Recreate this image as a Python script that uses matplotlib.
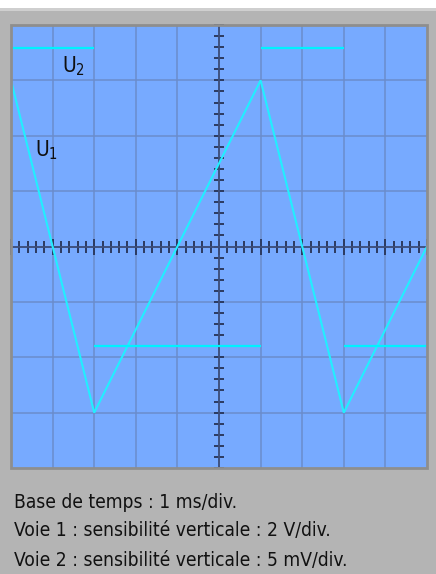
import matplotlib
matplotlib.use("Agg")
import matplotlib.pyplot as plt
from matplotlib.patches import Rectangle
from matplotlib.ticker import MultipleLocator
from matplotlib import font_manager
from matplotlib.font_manager import FontProperties

# ---- data (divisions) ----
u1_x = [0, 2, 6, 8, 10]
u1_y = [3, -3, 3, -3, 0]

u2_segments_x = [[0, 2], [2, 6], [6, 8], [8, 10]]
u2_segments_y = [[3.58, 3.58], [-1.8, -1.8], [3.58, 3.58], [-1.8, -1.8]]

trace_labels = [r"$\mathregular{U_2}$", r"$\mathregular{U_1}$"]

info_lines = [
    "Base de temps : 1 ms/div.",
    "Voie 1 : sensibilité verticale : 2 V/div.",
    "Voie 2 : sensibilité verticale : 5 mV/div.",
]


def pick_font():
    files = [f.fname for f in font_manager.fontManager.ttflist]
    prefs = ["LiberationSansNarrow-Regular", "DejaVuSansCondensed.ttf",
             "LiberationSans-Regular"]
    for p in prefs:
        for fn in files:
            if p in fn:
                return fn, p
    return None, None


fname, which = pick_font()


def fp(size):
    if fname:
        return FontProperties(fname=fname, size=size)
    return FontProperties(family="DejaVu Sans", size=size)


text_size = {"LiberationSansNarrow-Regular": 16.0,
             "DejaVuSansCondensed.ttf": 13.75,
             "LiberationSans-Regular": 13.4}.get(which, 12.8)

W, H = 436, 574
fig = plt.figure(figsize=(W / 100, H / 100), dpi=100)
fig.patch.set_facecolor("#b4b4b4")
fig.patches.append(Rectangle((0, 1 - 8 / H), 1, 8 / H, transform=fig.transFigure,
                             facecolor="white", edgecolor="none", zorder=0))
fig.patches.append(Rectangle((0, 1 - 11 / H), 1, 3 / H, transform=fig.transFigure,
                             facecolor="#cfcfcf", edgecolor="none", zorder=0))

L, T, R, B = 11, 25, 427, 468
ax = fig.add_axes([L / W, 1 - B / H, (R - L) / W, (B - T) / H])
ax.set_facecolor("#77aaff")
ax.set_xlim(0, 10)
ax.set_ylim(-4, 4)

for v in range(1, 10):
    ax.axvline(v, color="#6a8ccc", lw=1.1, zorder=1)
for v in range(-3, 4):
    ax.axhline(v, color="#6a8ccc", lw=1.1, zorder=1)

for s in ["top", "right"]:
    ax.spines[s].set_visible(False)
ax.spines["left"].set_position(("data", 5))
ax.spines["bottom"].set_position(("data", 0))
for s in ["left", "bottom"]:
    ax.spines[s].set_color("#3c4e7c")
    ax.spines[s].set_linewidth(1.3)
    ax.spines[s].set_zorder(2)
ax.xaxis.set_major_locator(MultipleLocator(1))
ax.xaxis.set_minor_locator(MultipleLocator(0.2))
ax.yaxis.set_major_locator(MultipleLocator(1))
ax.yaxis.set_minor_locator(MultipleLocator(0.2))
ax.tick_params(axis="x", which="major", direction="inout", length=11, width=1.4,
               color="#2c3a60", labelbottom=False)
ax.tick_params(axis="x", which="minor", direction="inout", length=9, width=1.4,
               color="#2c3a60")
ax.tick_params(axis="y", which="major", direction="inout", length=7.5, width=1.4,
               color="#2c3a60", labelleft=False)
ax.tick_params(axis="y", which="minor", direction="inout", length=6.5, width=1.4,
               color="#2c3a60")

ax.add_patch(Rectangle((0, 0), 1, 1, transform=ax.transAxes, fill=False,
                       edgecolor="#8e8e8e", lw=2.0, zorder=5, clip_on=False))

ax.plot(u1_x, u1_y, color="#22eeff", lw=1.5, zorder=4, solid_joinstyle="miter")
for sx, sy in zip(u2_segments_x, u2_segments_y):
    ax.plot(sx, sy, color="#00f2ff", lw=1.6, zorder=4, solid_capstyle="butt")

ax.text(1.22, 3.14, trace_labels[0], fontproperties=fp(15), color="#101010")
ax.text(0.58, 1.62, trace_labels[1], fontproperties=fp(15), color="#101010")

ys = [502, 531, 560]
for line, y in zip(info_lines, ys):
    fig.text(14 / W, 1 - y / H, line, fontproperties=fp(text_size), color="#111111",
             va="center", ha="left")

fig.savefig("out.png", dpi=100, facecolor=fig.get_facecolor())
